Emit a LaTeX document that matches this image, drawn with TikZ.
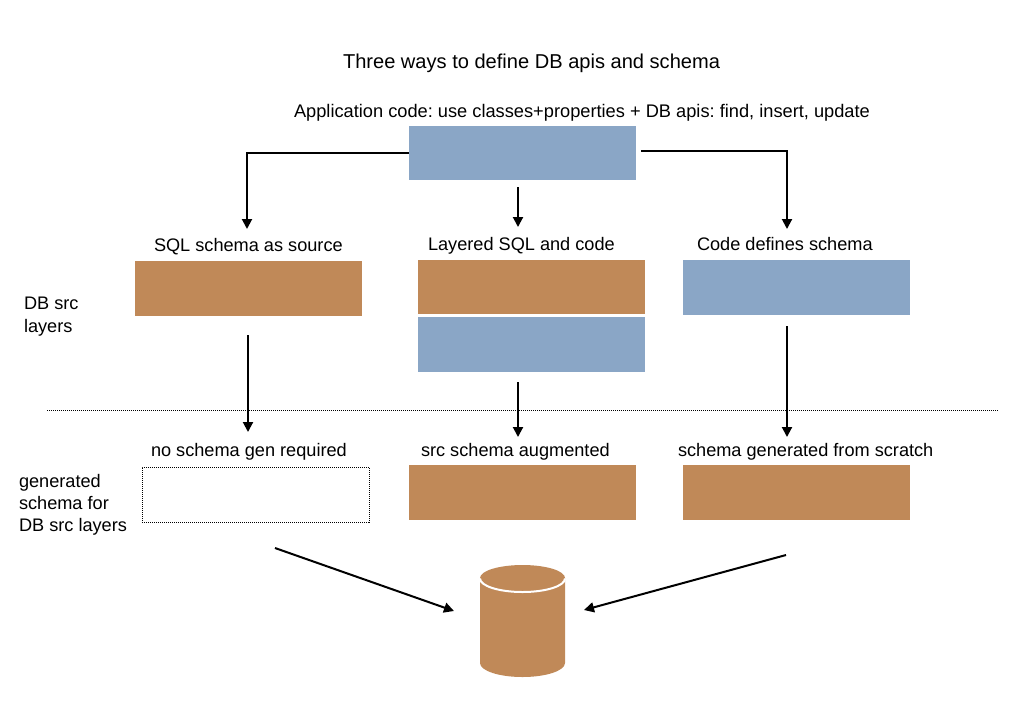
\documentclass[tikz,border=0pt]{standalone}
\usepackage{fontspec}
\setmainfont{Liberation Sans}
\usetikzlibrary{arrows.meta}
\definecolor{tan}{RGB}{192,137,88}
\definecolor{steel}{RGB}{138,166,198}
\tikzset{
  x=0.75pt,y=-0.75pt,
  lab/.style={anchor=base west,inner sep=0pt,outer sep=0pt,font=\fontsize{13.62pt}{15pt}\selectfont\frenchspacing,text=black},
  ttl/.style={lab,font=\fontsize{15.05pt}{17pt}\selectfont\frenchspacing},
  applab/.style={lab,font=\fontsize{13.68pt}{15pt}\selectfont\frenchspacing},
  arr/.style={draw=black,line width=1.5pt,-{Triangle[length=7.5pt,width=7.5pt]}},
  tanfill/.style={fill=tan,draw=none},
  bluefill/.style={fill=steel,draw=none},
  sep/.style={draw=black,line width=0.75pt,dash pattern=on 0.75pt off 0.75pt},
  box/.style={inner sep=0pt,outer sep=0pt,minimum width=170.25pt,minimum height=41.25pt},
}
\begin{document}
\begin{tikzpicture}
\useasboundingbox (0,0) rectangle (1009,704);
\fill[white] (0,0) rectangle (1009,704);
% boxes
\node[box,bluefill,minimum height=40.5pt] (app) at (522.5,153) {};
\node[box,tanfill] (sql) at (248.5,288.5) {};
\node[box,tanfill,minimum height=40.5pt] (lay) at (531.5,287) {};
\node[box,bluefill] (layb) at (531.5,344.5) {};
\node[box,bluefill] (code) at (796.5,287.5) {};
\node[box,sep] (none) at (255.5,494.5) {};
\node[box,tanfill] (aug) at (522.5,492.5) {};
\node[box,tanfill] (gen) at (796.5,492.5) {};
% cylinder
\path[tanfill] (480,578) -- (480,663) arc[start angle=180,end angle=0,x radius=42.5,y radius=14] -- (565,578) arc[start angle=0,end angle=-180,x radius=42.5,y radius=13] -- cycle;
\draw[white,line width=1.5pt] (480,578.5) arc[start angle=180,end angle=0,x radius=42.5,y radius=13.5];
\node[inner sep=0pt,minimum width=63.75pt,minimum height=84pt] (db) at (522.5,621) {};
% labels
\node[ttl] (title) at (343,68) {Three ways to define DB apis and schema};
\node[applab] (apptxt) at (294,117) {Application code: use classes+properties + DB apis: find, insert, update};
\node[lab] (t1) at (154,251) {SQL schema as source};
\node[lab] (t2) at (428,250) {Layered SQL and code};
\node[lab] (t3) at (697,250) {Code defines schema};
\node[lab] (d1) at (24,309) {DB src};
\node[lab] (d2) at (24,332) {layers};
\node[lab] (g1) at (151,456) {no schema gen required};
\node[lab] (g2) at (421,456) {src schema augmented};
\node[lab] (g3) at (678,456) {schema generated from scratch};
\node[lab] (s1) at (19,487) {generated};
\node[lab] (s2) at (19,509) {schema for};
\node[lab] (s3) at (19,531) {DB src layers};
% connector ends
\coordinate (a1) at (247,229);
\coordinate (a2) at (518,227);
\coordinate (a3s) at (641,151);
\coordinate (a3) at (787,229);
\coordinate (a2s) at (518,187);
\coordinate (b1s) at (248,335);
\coordinate (b1) at (248,432);
\coordinate (b2s) at (518,382);
\coordinate (b2) at (518,437);
\coordinate (b3s) at (787,326);
\coordinate (b3) at (787,437);
\coordinate (c1s) at (275,548);
\coordinate (c1) at (454,611);
\coordinate (c2s) at (786,555);
\coordinate (c2) at (584,610);
% connectors
\draw[arr] (app.west |- 0,152.5) -| (a1);
\draw[arr] (a3s) -| (a3);
\draw[arr] (a2s) -- (a2);
\draw[arr] (b1s) -- (b1);
\draw[arr] (b2s) -- (b2);
\draw[arr] (b3s) -- (b3);
\draw[arr] (c1s) -- (c1);
\draw[arr] (c2s) -- (c2);
% separator
\coordinate (sepL) at (47,410);
\coordinate (sepR) at (998,410);
\draw[sep] (sepL) -- (sepR);
\end{tikzpicture}
\end{document}
